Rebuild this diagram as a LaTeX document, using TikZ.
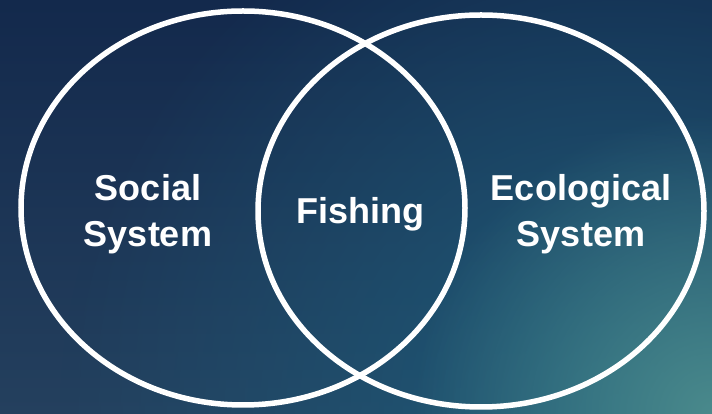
\documentclass[tikz,border=0pt]{standalone}
\usepackage{fontspec}
\setmainfont{Liberation Sans}
\usetikzlibrary{fadings}
\definecolor{navytop}{HTML}{13294C}
\definecolor{navybottom}{HTML}{24405E}
\definecolor{blueglow}{HTML}{1D5A78}
\definecolor{tealglow}{HTML}{4A8A8C}
\tikzfading[name=glowfade, inner color=transparent!0, outer color=transparent!100]
\tikzset{
  setring/.style={draw=white,line width=5.5pt},
  setlabel/.style={text=white,font=\bfseries\fontsize{36}{46}\selectfont,align=center}
}
\begin{document}
\begin{tikzpicture}[x=1pt,y=1pt]
    \useasboundingbox (0,0) rectangle (712,414);
    \shade[top color=navytop,bottom color=navybottom] (0,0) rectangle (712,414);
    \begin{scope}
      \clip (0,0) rectangle (712,414);
      \fill[blueglow,path fading=glowfade] (620,0) circle (560);
      \fill[tealglow,path fading=glowfade] (712,0) circle (300);
    \end{scope}
    \draw[setring] (243,206) ellipse (222 and 197);
    \draw[setring] (481,203) ellipse (223 and 196);
    \node[setlabel] (social) at (148,200) {Social\\System};
    \node[setlabel] (fishing) at (360,200) {Fishing};
    \node[setlabel] (ecological) at (581,200) {Ecological\\System};
\end{tikzpicture}
\end{document}
